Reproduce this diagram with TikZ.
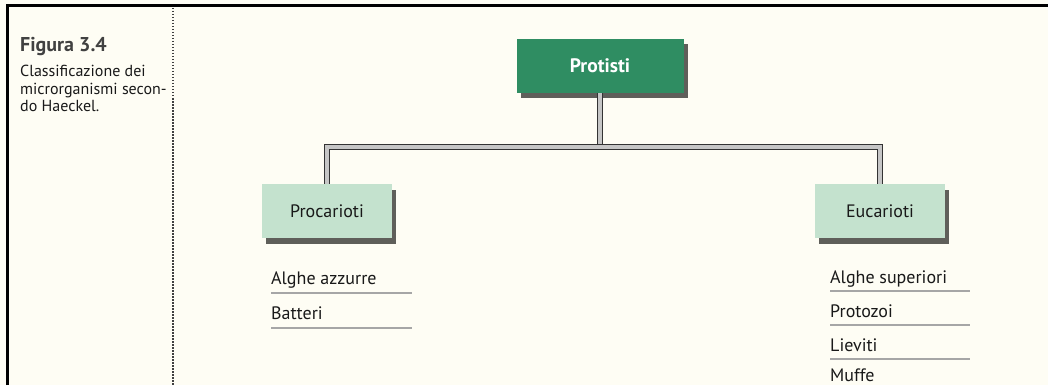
\documentclass[tikz,border=0pt]{standalone}
\usepackage{fontspec}
\setmainfont{PT Sans}
\usetikzlibrary{shadows,calc}
\definecolor{bgc}{RGB}{254,253,244}
\definecolor{dkgreen}{RGB}{47,141,98}
\definecolor{ltgreen}{RGB}{196,226,206}
\definecolor{shadowc}{RGB}{95,95,90}
\definecolor{txt}{RGB}{25,25,25}
\definecolor{capc}{RGB}{65,65,65}
\tikzset{
  rootbox/.style={fill=dkgreen, minimum width=167pt, minimum height=54pt, inner sep=0pt,
    text=white, font=\fontsize{19.5}{22}\selectfont\bfseries,
    drop shadow={shadow xshift=4pt, shadow yshift=-5pt, fill=shadowc, opacity=1}},
  subbox/.style={fill=ltgreen, minimum width=130pt, minimum height=54pt, inner sep=0pt,
    text=txt, font=\fontsize{18}{20}\selectfont,
    drop shadow={shadow xshift=4pt, shadow yshift=-6pt, fill=shadowc, opacity=1}},
  conn/.style={draw=black!80, double=gray!45, double distance=3.5pt, line width=1pt},
  listitem/.style={anchor=base west, inner sep=0pt, text=txt, font=\fontsize{18}{20}\selectfont},
  itemrule/.style={draw=gray!70, line width=1.6pt},
  captext/.style={anchor=base west, inner sep=0pt, text=txt, font=\fontsize{16}{18}\selectfont, align=left}
}
\begin{document}
\begin{tikzpicture}[x=1pt,y=-1pt]
\fill[bgc] (0,0) rectangle (1048,385);
\useasboundingbox (0,0) rectangle (1048,385);
% frame
\draw[line width=3pt, black] (7,385) -- (7,5.5) -- (1048,5.5);
% dotted separator
\draw[line width=1.6pt, black!75, dash pattern=on 1.5pt off 1.5pt] (173,8) -- (173,385);
% caption
\node[captext, font=\fontsize{20}{22}\selectfont\bfseries, text=capc] (fig) at (20,52) {Figura 3.4};
\node[captext] (c1) at (20,77) {Classificazione dei};
\node[captext] (c2) at (20,94.5) {microrganismi secon-};
\node[captext] (c3) at (20,112) {do Haeckel.};
% boxes
\node[rootbox] (prot) at (600,66) {Protisti};
\node[subbox] (proc) at (327,211) {Procarioti};
\node[subbox] (euc) at (880,211) {Eucarioti};
% connectors
\coordinate (j) at (600,147);
\draw[conn] (prot.south) -- (j);
\draw[conn] (proc.north) |- (j) -| (euc.north);
% lists
\node[listitem] (a1) at (271,284) {Alghe azzurre};
\node[listitem] (a2) at (271,319) {Batteri};
\draw[itemrule] ($(a1.base west)+(0,9)$) -- ++(141,0);
\draw[itemrule] ($(a2.base west)+(0,9)$) -- ++(141,0);
\node[listitem] (b1) at (830,283) {Alghe superiori};
\node[listitem] (b2) at (830,317) {Protozoi};
\node[listitem] (b3) at (830,351) {Lieviti};
\node[listitem] (b4) at (830,381) {Muffe};
\draw[itemrule] ($(b1.base west)+(0,8)$) -- ++(140,0);
\draw[itemrule] ($(b2.base west)+(0,8)$) -- ++(140,0);
\draw[itemrule] ($(b3.base west)+(0,8)$) -- ++(140,0);
\end{tikzpicture}
\end{document}
